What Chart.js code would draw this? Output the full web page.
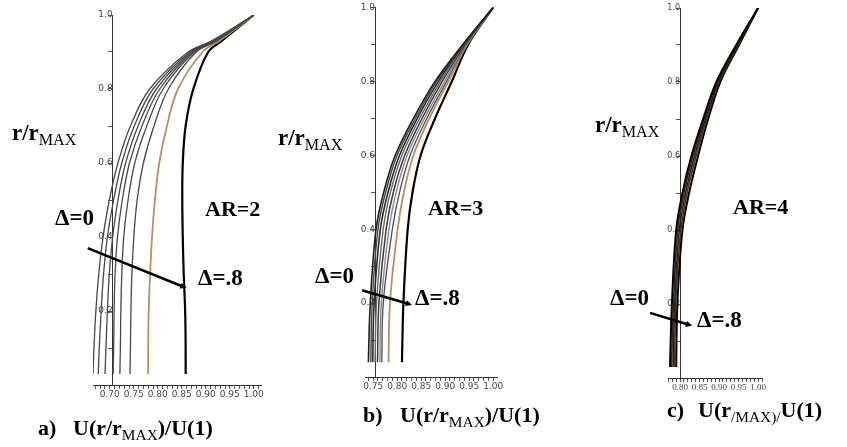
<!DOCTYPE html>
<html><head><meta charset="utf-8">
<script src="https://cdn.jsdelivr.net/npm/chart.js@4"></script>
<style>
html,body{margin:0;padding:0;background:#fff;}
#wrap{position:relative;width:847px;height:447px;overflow:hidden;background:#fff;}
canvas{position:absolute;left:0;top:0;}
.t{position:absolute;font-family:"Liberation Serif","Times New Roman",serif;font-weight:bold;color:#000;white-space:nowrap;line-height:1;}
.sub{font-weight:normal;font-size:0.7em;vertical-align:-0.3em;}
</style></head><body>
<div id="wrap">
<canvas id="ca" width="847" height="447"></canvas>
<canvas id="cb" width="847" height="447"></canvas>
<canvas id="cc" width="847" height="447"></canvas>
</div>
<script>
// ---------- data ----------
// Panel a (AR=2): r/rMAX values and U(r)/U(1) for each Δ curve
const rA = [0.03, 0.1, 0.2, 0.3, 0.4, 0.5, 0.6, 0.7, 0.8, 0.9, 0.93, 1.0];
const a1 = [0.665, 0.667, 0.671, 0.677, 0.686, 0.699, 0.717, 0.743, 0.783, 0.863, 0.912, 1.0];
const a2 = [0.676, 0.678, 0.682, 0.687, 0.695, 0.708, 0.725, 0.751, 0.790, 0.867, 0.915, 1.0];
const a3 = [0.690, 0.692, 0.695, 0.699, 0.706, 0.717, 0.733, 0.759, 0.797, 0.870, 0.917, 1.0];
const a4 = [0.707, 0.708, 0.709, 0.711, 0.716, 0.726, 0.741, 0.767, 0.804, 0.873, 0.919, 1.0];
const a5 = [0.721, 0.722, 0.723, 0.725, 0.729, 0.738, 0.752, 0.777, 0.811, 0.876, 0.921, 1.0];
const a6 = [0.742, 0.743, 0.744, 0.746, 0.750, 0.757, 0.770, 0.792, 0.822, 0.880, 0.923, 1.0];
const aTan = [0.780, 0.780, 0.781, 0.784, 0.788, 0.794, 0.803, 0.819, 0.842, 0.893, 0.928, 1.0];
const aBlk = [0.858, 0.858, 0.857, 0.854, 0.852, 0.851, 0.852, 0.858, 0.874, 0.905, 0.933, 1.0];

// Panel b (AR=3)
const rB = [0.04, 0.2, 0.4, 0.5, 0.6, 0.7, 0.8, 0.9, 1.0];
const b1 = [0.740, 0.744, 0.756, 0.772, 0.796, 0.834, 0.879, 0.937, 1.0];
const b2 = [0.745, 0.748, 0.760, 0.776, 0.800, 0.838, 0.882, 0.938, 1.0];
const b3 = [0.749, 0.752, 0.765, 0.781, 0.805, 0.842, 0.886, 0.939, 1.0];
const b4 = [0.754, 0.757, 0.771, 0.786, 0.810, 0.847, 0.890, 0.940, 1.0];
const b5 = [0.759, 0.762, 0.777, 0.792, 0.816, 0.852, 0.894, 0.942, 1.0];
const b6 = [0.764, 0.767, 0.783, 0.798, 0.821, 0.857, 0.899, 0.943, 1.0];
const b7 = [0.768, 0.771, 0.790, 0.805, 0.827, 0.862, 0.903, 0.944, 1.0];
const bTan = [0.782, 0.785, 0.801, 0.814, 0.834, 0.867, 0.907, 0.946, 1.0];
const bBlk = [0.810, 0.813, 0.822, 0.832, 0.849, 0.879, 0.914, 0.948, 1.0];

// Panel c (AR=4)
const rC = [0.03, 0.2, 0.4, 0.5, 0.6, 0.7, 0.8, 0.9, 1.0];
const c1 = [0.774, 0.779, 0.790, 0.806, 0.829, 0.859, 0.893, 0.944, 1.0];
const c2 = [0.778, 0.783, 0.794, 0.810, 0.833, 0.862, 0.895, 0.945, 1.0];
const c3 = [0.782, 0.786, 0.798, 0.814, 0.837, 0.865, 0.898, 0.947, 1.0];
const c4 = [0.786, 0.789, 0.802, 0.818, 0.841, 0.868, 0.900, 0.949, 1.0];
const c5 = [0.790, 0.793, 0.806, 0.823, 0.846, 0.872, 0.903, 0.951, 1.0];

// tick labels
const xLabelsA = ['0.70', '0.75', '0.80', '0.85', '0.90', '0.95', '1.00'];
const xLabelsB = ['0.75', '0.80', '0.85', '0.90', '0.95', '1.00'];
const xLabelsC = ['0.80', '0.85', '0.90', '0.95', '1.00'];
const yLabels = ['0.2', '0.4', '0.6', '0.8', '1.0'];

// ---------- helpers ----------
function pts(rs, us) { return rs.map((r, i) => ({x: us[i], y: r})); }
function ds(rs, us, color, width) {
  return {data: pts(rs, us), borderColor: color, borderWidth: width, showLine: true,
          pointRadius: 0, tension: 0.35, fill: false};
}
const arrowPlugin = {
  id: 'arrow',
  afterDatasetsDraw(chart, args, o) {
    if (!o || !o.from) return;
    const {ctx} = chart, sx = chart.scales.x, sy = chart.scales.y;
    const x1 = sx.getPixelForValue(o.from[0]), y1 = sy.getPixelForValue(o.from[1]);
    const x2 = sx.getPixelForValue(o.to[0]), y2 = sy.getPixelForValue(o.to[1]);
    const ang = Math.atan2(y2 - y1, x2 - x1), h = o.head;
    ctx.save();
    ctx.strokeStyle = '#000'; ctx.fillStyle = '#000'; ctx.lineWidth = o.width;
    ctx.beginPath(); ctx.moveTo(x1, y1);
    ctx.lineTo(x2 - Math.cos(ang) * h * 0.6, y2 - Math.sin(ang) * h * 0.6); ctx.stroke();
    ctx.beginPath(); ctx.moveTo(x2, y2);
    ctx.lineTo(x2 - h * Math.cos(ang - 0.45), y2 - h * Math.sin(ang - 0.45));
    ctx.lineTo(x2 - h * Math.cos(ang + 0.45), y2 - h * Math.sin(ang + 0.45));
    ctx.closePath(); ctx.fill();
    ctx.restore();
  }
};
Chart.register(arrowPlugin);

function makeChart(id, datasets, cfg) {
  const near = (a, b) => Math.abs(a - b) < 1e-6;
  return new Chart(document.getElementById(id), {
    type: 'scatter',
    data: {datasets},
    options: {
      responsive: false, animation: false, devicePixelRatio: 1,
      layout: {padding: cfg.pad},
      plugins: {legend: {display: false}, tooltip: {enabled: false}, arrow: cfg.arrow},
      scales: {
        x: {
          type: 'linear', min: cfg.xmin, max: cfg.xmax, position: {y: 0},
          afterBuildTicks: s => {
            const t = [];
            for (let k = Math.ceil(cfg.xmin * 100 - 1e-6); k <= Math.floor(cfg.xmax * 100 + 1e-6); k++) t.push({value: k / 100});
            s.ticks = t;
          },
          border: {display: true, color: '#333', width: 1},
          grid: {display: true, drawOnChartArea: false, drawTicks: true, tickLength: 3, color: '#555'},
          ticks: {
            autoSkip: false, maxRotation: 0, minRotation: 0, padding: 1,
            color: cfg.tickColor, font: cfg.xFont,
            callback: v => { const s = v.toFixed(2); return cfg.xLabels.includes(s) && near(v * 20, Math.round(v * 20)) ? s : ''; }
          }
        },
        y: {
          type: 'linear', min: 0, max: 1, position: {x: cfg.yAt},
          afterBuildTicks: s => {
            const t = [];
            for (let k = 1; k <= 10; k++) t.push({value: k / 10});
            s.ticks = t;
          },
          border: {display: true, color: '#333', width: 1},
          grid: {display: true, drawOnChartArea: false, drawTicks: true, tickLength: 4, color: '#555'},
          ticks: {
            autoSkip: false, padding: 2, color: cfg.tickColor, font: cfg.yFont,
            callback: v => { const s = v.toFixed(1); return yLabels.includes(s) && near(v * 5, Math.round(v * 5)) ? s : ''; }
          }
        }
      }
    }
  });
}

const G = '#474747', TAN = '#b98e5c';
makeChart('ca', [
  ds(rA, a1, G, 1.3), ds(rA, a2, G, 1.3), ds(rA, a3, G, 1.3), ds(rA, a4, G, 1.3),
  ds(rA, a5, G, 1.3), ds(rA, a6, G, 1.3), ds(rA, aTan, TAN, 1.8), ds(rA, aBlk, '#000', 2.2)
], {
  pad: {left: 93, right: 586, top: 15, bottom: 62}, xmin: 0.665, xmax: 1.015, yAt: 0.706,
  xLabels: xLabelsA, tickColor: '#444',
  xFont: {family: 'DejaVu Sans', size: 9}, yFont: {family: 'DejaVu Sans', size: 9},
  arrow: {from: [0.654, 0.370], to: [0.860, 0.262], width: 2.6, head: 7}
});
makeChart('cb', [
  ds(rB, b1, '#1e1e1e', 1.6), ds(rB, b2, '#444', 1.4), ds(rB, b3, '#2a2a2a', 1.6), ds(rB, b4, '#666', 1.4),
  ds(rB, b5, '#3a3a3a', 1.5), ds(rB, b6, '#888', 1.4), ds(rB, b7, '#555', 1.4),
  ds(rB, bTan, TAN, 1.8), ds(rB, bBlk, '#000', 2.2)
], {
  pad: {left: 365, right: 350, top: 7, bottom: 70}, xmin: 0.733, xmax: 1.008, yAt: 0.754,
  xLabels: xLabelsB, tickColor: '#444',
  xFont: {family: 'DejaVu Sans', size: 9}, yFont: {family: 'DejaVu Sans', size: 9},
  arrow: {from: [0.727, 0.235], to: [0.831, 0.195], width: 2.6, head: 7}
});
makeChart('cc', [
  ds(rC, c1, '#000', 2), ds(rC, c2, '#3b2a1a', 1.6), ds(rC, c3, '#2a1d10', 1.6),
  ds(rC, c4, '#4a3520', 1.6), ds(rC, c5, '#000', 2)
], {
  pad: {left: 668, right: 85, top: 8, bottom: 69}, xmin: 0.769, xmax: 1.010, yAt: 0.80,
  xLabels: xLabelsC, tickColor: '#444',
  xFont: {family: 'Liberation Serif', size: 9}, yFont: {family: 'DejaVu Sans', size: 8},
  arrow: {from: [0.723, 0.176], to: [0.831, 0.141], width: 2.6, head: 7}
});

// ---------- text labels (baseline-positioned) ----------
const wrap = document.getElementById('wrap');
function label(html, left, baseline, size) {
  const d = document.createElement('div');
  d.className = 't';
  d.style.left = left + 'px';
  d.style.fontSize = size + 'px';
  d.style.top = (baseline - 0.8375 * size) + 'px';
  d.innerHTML = html;
  wrap.appendChild(d);
}
const RR = 'r/r<span class="sub">MAX</span>';
const UA = 'U(r/r<span class="sub">MAX</span>)/U(1)';
const UC = 'U(r<span class="sub">/MAX)/</span>U(1)';
label(RR, 12, 140, 23);
label(RR, 278, 145, 23);
label(RR, 595, 132, 23);
label('AR=2', 205, 216, 22);
label('AR=3', 428, 215, 22);
label('AR=4', 733, 214, 22);
label('Δ=0', 55, 225, 23);
label('Δ=.8', 198, 285, 23);
label('Δ=0', 315, 283, 23);
label('Δ=.8', 415, 305, 23);
label('Δ=0', 610, 305, 23);
label('Δ=.8', 697, 327, 23);
label('a)', 38, 435, 22);
label(UA, 73, 435, 22);
label('b)', 363, 422, 22);
label(UA, 400, 422, 22);
label('c)', 667, 417, 22);
label(UC, 698, 417, 22);
</script>
</body></html>
